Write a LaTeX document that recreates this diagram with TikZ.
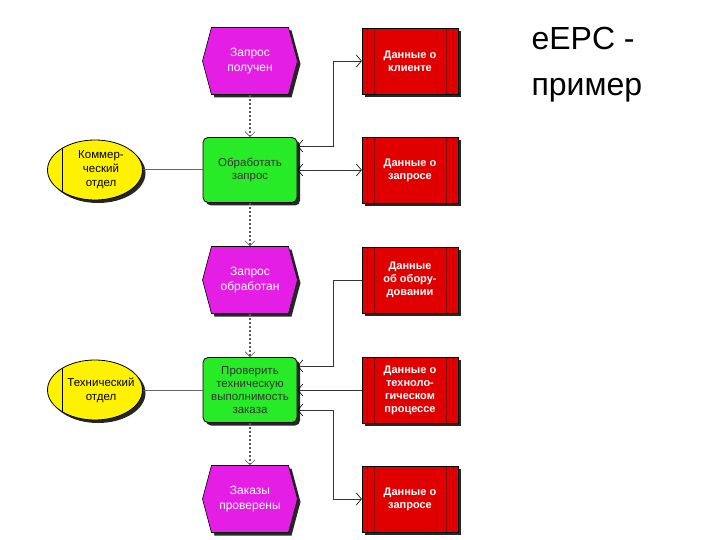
\documentclass[tikz,border=0pt]{standalone}
\usepackage{fontspec}
\setmainfont{Liberation Sans}
\usetikzlibrary{shapes.symbols,shapes.geometric,shadows,arrows.meta}
\definecolor{evc}{RGB}{228,30,228}
\definecolor{fnc}{RGB}{40,235,40}
\definecolor{dac}{RGB}{225,0,0}
\begin{document}
\begin{tikzpicture}[x=1pt,y=-1pt,
 shd/.style={drop shadow={shadow xshift=3pt,shadow yshift=-3pt,fill=black!85,opacity=1}},
 evt/.style={shape=signal,signal to=west and east,signal pointer angle=150,fill=evc,draw=black,line width=0.6pt,shd,minimum width=95pt,minimum height=67pt,inner sep=0pt,text=white,align=center,font=\fontsize{12}{15}\selectfont},
 fun/.style={rectangle,rounded corners=5pt,fill=fnc,draw=black,line width=0.8pt,shd,minimum width=94pt,minimum height=65pt,inner sep=0pt,align=center,font=\fontsize{11.5}{13}\selectfont,text=black!80},
 dat/.style={rectangle,fill=dac,draw=black,line width=0.5pt,shd,minimum width=96pt,minimum height=66pt,inner sep=0pt,text=white,align=center,font=\bfseries\fontsize{11}{13}\selectfont,
   path picture={\foreach \d in {5,12}{\draw[red!50!black,line width=0.6pt] ([xshift=\d pt]path picture bounding box.north west)--([xshift=\d pt]path picture bounding box.south west);
   \draw[red!50!black,line width=0.6pt] ([xshift=-\d pt]path picture bounding box.north east)--([xshift=-\d pt]path picture bounding box.south east);}}},
 org/.style={ellipse,fill=yellow,draw=black,line width=0.8pt,shd,minimum width=95pt,minimum height=60pt,inner xsep=-20pt,inner ysep=-8pt,align=center,font=\fontsize{11.5}{14}\selectfont,
   path picture={\draw[black,line width=0.6pt] ([xshift=15pt]path picture bounding box.north west)--([xshift=15pt]path picture bounding box.south west);}},
 flow/.style={gray!70!black,line width=1.3pt,dash pattern=on 2pt off 2pt,-{Straight Barb[length=5pt,width=10pt,line width=0.6pt]}},
 io/.style={black!80,line width=0.7pt,>={Straight Barb[length=5pt,width=12pt,line width=0.6pt,black]}},
 ln/.style={gray!80!black,line width=1pt}]
\useasboundingbox (0,0) rectangle (720,540);
\node[evt] (e1) at (250,61) {Запрос\\получен};
\node[fun] (f1) at (250,170) {Обработать\\запрос};
\node[evt] (e2) at (250,280) {Запрос\\обработан};
\node[fun] (f2) at (250,390) {Проверить\\техническую\\выполнимость\\заказа};
\node[evt] (e3) at (250,499) {Заказы\\проверены};
\node[dat] (d1) at (410,61) {Данные о\\клиенте};
\node[dat] (d2) at (410,170) {Данные о\\запросе};
\node[dat] (d3) at (410,280) {Данные\\об обору-\\довании};
\node[dat] (d4) at (410,390) {Данные о\\техноло-\\гическом\\процессе};
\node[dat] (d5) at (410,499) {Данные о\\запросе};
\node[org] (o1) at (95,170) {\hspace*{12pt}Коммер-\\\hspace*{12pt}ческий\\\hspace*{12pt}отдел};
\node[org] (o2) at (95,390) {\hspace*{12pt}Технический\\\hspace*{12pt}отдел};
\node[font=\fontsize{32}{46}\selectfont,align=left,anchor=north west] (t) at (528,24) {eEPC -\\пример};
\draw[flow] (e1.south) -- (f1.north);
\draw[flow] (f1.south) -- (e2.north);
\draw[flow] (e2.south) -- (f2.north);
\draw[flow] (f2.south) -- (e3.north);
\draw[ln] (o1.east) -- (f1.west);
\draw[ln] (o2.east) -- (f2.west);
\draw[io,<->] (f1.east |- 0,146) -| (333,61) -- (d1.west);
\draw[io,<->] (f1.east) -- (d2.west);
\draw[io,<-] (f2.east |- 0,366) -| (333,280) -- (d3.west);
\draw[io,<-] (f2.east) -- (d4.west);
\draw[io,<->] (f2.east |- 0,410) -| (333,499) -- (d5.west);
\end{tikzpicture}
\end{document}
